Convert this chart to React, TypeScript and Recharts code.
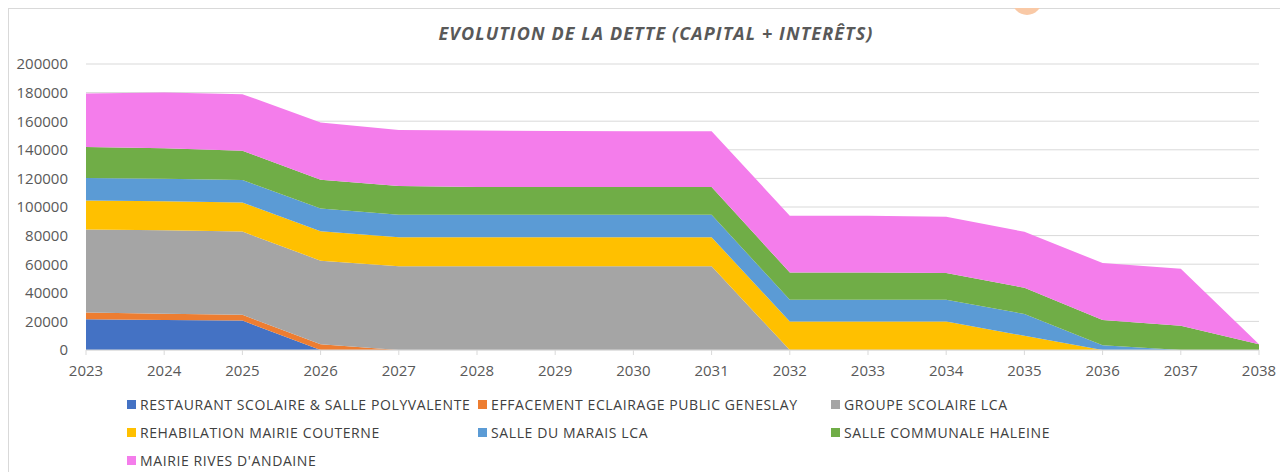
import React from "react";
import { AreaChart, Area, XAxis, YAxis, CartesianGrid } from "recharts";

const years = ["2023", "2024", "2025", "2026", "2027", "2028", "2029", "2030", "2031", "2032", "2033", "2034", "2035", "2036", "2037", "2038"];
const restaurant = [21500, 21000, 20600, 0, 0, 0, 0, 0, 0, 0, 0, 0, 0, 0, 0, 0];
const eclairage = [4700, 4300, 4000, 4000, 0, 0, 0, 0, 0, 0, 0, 0, 0, 0, 0, 0];
const groupeScolaire = [58000, 58400, 58200, 58500, 58500, 58500, 58500, 58500, 58500, 0, 0, 0, 0, 0, 0, 0];
const mairieCouterne = [20400, 20400, 20400, 20500, 20300, 20300, 20300, 20300, 20300, 20000, 20000, 20000, 9900, 0, 0, 0];
const salleMarais = [15600, 15700, 15600, 15900, 15700, 15700, 15700, 15700, 15700, 15200, 15200, 15200, 15300, 3300, 0, 0];
const salleHaleine = [21800, 21200, 20600, 20200, 20100, 19400, 19400, 19400, 19400, 19000, 19000, 18600, 18300, 17600, 16900, 4000];
const mairieRives = [37400, 39100, 39500, 40000, 39300, 39600, 39300, 39100, 39100, 39700, 39700, 39400, 39200, 39900, 39900, 0];
const yTicks = [0, 20000, 40000, 60000, 80000, 100000, 120000, 140000, 160000, 180000, 200000];

const seriesNames = [
  "RESTAURANT SCOLAIRE & SALLE POLYVALENTE",
  "EFFACEMENT ECLAIRAGE PUBLIC GENESLAY",
  "GROUPE SCOLAIRE LCA",
  "REHABILATION MAIRIE COUTERNE",
  "SALLE DU MARAIS LCA",
  "SALLE COMMUNALE HALEINE",
  "MAIRIE RIVES D'ANDAINE",
];
const seriesValues = [restaurant, eclairage, groupeScolaire, mairieCouterne, salleMarais, salleHaleine, mairieRives];
const colors = ["#4472C4", "#ED7D31", "#A5A5A5", "#FFC000", "#5B9BD5", "#70AD47", "#F47DEB"];
const keys = ["s0", "s1", "s2", "s3", "s4", "s5", "s6"];

const data = years.map((y, i) => {
  const row: Record<string, any> = { year: y };
  seriesValues.forEach((arr, k) => {
    row[keys[k]] = arr[i];
  });
  return row;
});

const font = "'Open Sans', sans-serif";

const legendPos = [
  { left: 119, top: 387 },
  { left: 470, top: 387 },
  { left: 823, top: 387 },
  { left: 119, top: 415 },
  { left: 470, top: 415 },
  { left: 823, top: 415 },
  { left: 119, top: 443 },
];

export default function App() {
  return (
    <div style={{ position: "relative", width: 1280, height: 464 }}>
      <div
        style={{
          position: "absolute",
          left: 0,
          top: 0,
          width: 1290,
          height: 470,
          borderLeft: "1px solid #d9d9d9",
          borderTop: "1px solid #d9d9d9",
          boxSizing: "border-box",
          background: "#fff",
        }}
      />
      <div
        style={{
          position: "absolute",
          left: 1004,
          top: -23,
          width: 30,
          height: 30,
          borderRadius: "50%",
          background: "#F9C9A6",
          zIndex: 3,
        }}
      />
      <div
        style={{
          position: "absolute",
          left: 1,
          top: 13,
          width: 1300,
          textAlign: "center",
          fontFamily: font,
          fontStyle: "italic",
          fontWeight: 700,
          fontSize: 18,
          letterSpacing: 1.1,
          color: "#595959",
          zIndex: 2,
        }}
      >
        <span style={{ position: "relative", left: -3 }}>EVOLUTION DE LA DETTE (CAPITAL + INTERÊTS)</span>
      </div>
      <div style={{ position: "absolute", left: 1, top: 1 }}>
        <AreaChart width={1279} height={400} data={data} margin={{ top: 55, right: 29, bottom: 0, left: 0 }}>
          <CartesianGrid horizontal vertical={false} stroke="#d9d9d9" />
          <XAxis
            dataKey="year"
            axisLine={{ stroke: "#d9d9d9" }}
            tickLine={{ stroke: "#d9d9d9" }}
            tickSize={5}
            tickMargin={10}
            height={59}
            interval={0}
            tick={{ fontFamily: font, fontSize: 15, fill: "#595959" }}
          />
          <YAxis
            domain={[0, 200000]}
            ticks={yTicks}
            interval={0}
            axisLine={false}
            tickLine={false}
            tickSize={0}
            tickMargin={18}
            width={77}
            tick={{ fontFamily: font, fontSize: 15, fill: "#595959" }}
          />
          {keys.map((k, i) => (
            <Area
              key={k}
              type="linear"
              dataKey={k}
              name={seriesNames[i]}
              stackId="1"
              stroke="none"
              fill={colors[i]}
              fillOpacity={1}
              isAnimationActive={false}
              dot={false}
              activeDot={false}
            />
          ))}
        </AreaChart>
      </div>
      {seriesNames.map((n, i) => (
        <div
          key={n}
          style={{
            position: "absolute",
            left: legendPos[i].left,
            top: legendPos[i].top,
            display: "flex",
            alignItems: "center",
            fontFamily: font,
            fontSize: 14,
            letterSpacing: 0.6,
            color: "#404040",
            whiteSpace: "nowrap",
            zIndex: 2,
          }}
        >
          <span style={{ display: "inline-block", width: 9, height: 9, background: colors[i], marginRight: 4 }} />
          <span>{n}</span>
        </div>
      ))}
    </div>
  );
}
